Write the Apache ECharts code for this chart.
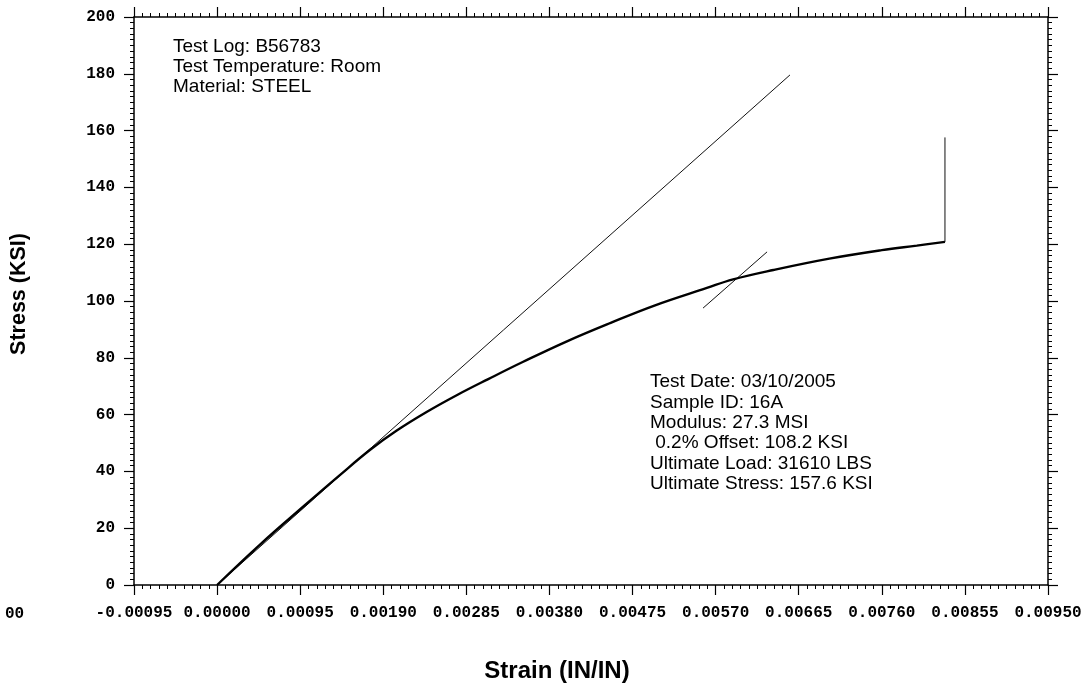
<!DOCTYPE html>
<html>
<head>
<meta charset="utf-8">
<script src="https://cdn.jsdelivr.net/npm/echarts@6/dist/echarts.min.js"></script>
<style>
html,body{margin:0;padding:0;background:#fff;}
#chart{width:1091px;height:687px;}
</style>
</head>
<body>
<div id="chart"></div>
<script>
// ---- data ----
const strainMin = -0.00095;
const strainMax = 0.0095;
const strainInterval = 0.00095;
const stressMin = 0;
const stressMax = 200;
const stressInterval = 20;

// measured stress-strain curve
const curveStrain = [0, 0.0005, 0.001, 0.0014, 0.00175, 0.00205, 0.0024, 0.00275, 0.0031, 0.0035, 0.0040, 0.0045, 0.0050, 0.0056, 0.0059, 0.00636, 0.0070, 0.0076, 0.0080, 0.008322];
const curveStress = [0, 14.5, 28.0, 38.6, 47.6, 54.3, 61.0, 67.0, 72.5, 78.6, 85.8, 92.3, 98.4, 104.6, 107.6, 110.9, 114.9, 117.9, 119.5, 120.8];

// modulus line
const modulusStrain = [0, 0.00655];
const modulusStress = [0, 179.6];

// 0.2% offset line
const offsetStrain = [0.005556, 0.006288];
const offsetStress = [97.5, 117.3];

// ultimate stress marker
const ultimateStrain = [0.008322, 0.008322];
const ultimateStress = [120.8, 157.6];

const infoLeft = ['Test Log: B56783', 'Test Temperature: Room', 'Material: STEEL'];
const infoRight = ['Test Date: 03/10/2005', 'Sample ID: 16A', 'Modulus: 27.3 MSI', ' 0.2% Offset: 108.2 KSI', 'Ultimate Load: 31610 LBS', 'Ultimate Stress: 157.6 KSI'];

const xTitle = 'Strain (IN/IN)';
const yTitle = 'Stress (KSI)';
const strayLabel = '00';

// ---- build ----
function pairs(xs, ys) { return xs.map((x, i) => [x, ys[i]]); }

const monoFont = '"Liberation Mono", "DejaVu Sans Mono", monospace';
const sansFont = '"Liberation Sans", Arial, sans-serif';
const axisColor = '#000';

function xAxisCfg(pos, labels) {
  return {
    type: 'value', position: pos,
    min: strainMin, max: strainMax, interval: strainInterval,
    axisLine: { show: true, onZero: false, lineStyle: { color: axisColor, width: 1.5 } },
    axisTick: { show: true, inside: false, length: 10, lineStyle: { color: axisColor, width: 1.2 } },
    minorTick: { show: true, splitNumber: 10, length: 4, lineStyle: { color: axisColor, width: 1 } },
    splitLine: { show: false },
    axisLabel: labels ? {
      show: true, margin: 20, color: '#000',
      fontFamily: monoFont, fontWeight: 'bold', fontSize: 16,
      showMinLabel: true, showMaxLabel: true,
      formatter: v => (Math.abs(v) < 1e-12 ? 0 : v).toFixed(5)
    } : { show: false }
  };
}
function yAxisCfg(pos, labels) {
  return {
    type: 'value', position: pos,
    min: stressMin, max: stressMax, interval: stressInterval,
    axisLine: { show: true, onZero: false, lineStyle: { color: axisColor, width: 1.5 } },
    axisTick: { show: true, inside: false, length: 10, lineStyle: { color: axisColor, width: 1.2 } },
    minorTick: { show: true, splitNumber: 10, length: 4, lineStyle: { color: axisColor, width: 1 } },
    splitLine: { show: false },
    axisLabel: labels ? {
      show: true, margin: 19, color: '#000',
      fontFamily: monoFont, fontWeight: 'bold', fontSize: 16
    } : { show: false }
  };
}

const chart = echarts.init(document.getElementById('chart'), null, { renderer: 'canvas' });
chart.setOption({
  animation: false,
  backgroundColor: '#fff',
  grid: { left: 134, right: 43, top: 17, bottom: 102, containLabel: false },
  xAxis: [xAxisCfg('bottom', true), xAxisCfg('top', false)],
  yAxis: [yAxisCfg('left', true), yAxisCfg('right', false)],
  series: [
    { type: 'line', data: pairs(modulusStrain, modulusStress), showSymbol: false, symbol: 'none',
      lineStyle: { color: '#111', width: 1 } },
    { type: 'line', data: pairs(offsetStrain, offsetStress), showSymbol: false, symbol: 'none',
      lineStyle: { color: '#111', width: 1 } },
    { type: 'line', data: pairs(ultimateStrain, ultimateStress), showSymbol: false, symbol: 'none',
      lineStyle: { color: '#111', width: 1 } },
    { type: 'line', data: pairs(curveStrain, curveStress), showSymbol: false, symbol: 'none', smooth: 0.4,
      lineStyle: { color: '#000', width: 2.4 } }
  ],
  graphic: [
    { type: 'text', left: 173, top: 37,
      style: { text: infoLeft.join('\n'), fill: '#000', font: '19px ' + sansFont, lineHeight: 20 } },
    { type: 'text', left: 650, top: 372,
      style: { text: infoRight.join('\n'), fill: '#000', font: '19px ' + sansFont, lineHeight: 20.3 } },
    { type: 'text', x: 557, y: 671,
      style: { text: xTitle, fill: '#000', font: 'bold 24px ' + sansFont, align: 'center', verticalAlign: 'middle' } },
    { type: 'text', x: 19, y: 294, rotation: Math.PI / 2,
      style: { text: yTitle, fill: '#000', font: 'bold 21.5px ' + sansFont, align: 'center', verticalAlign: 'middle' } },
    { type: 'text', x: 5, y: 614,
      style: { text: strayLabel, fill: '#000', font: 'bold 16px ' + monoFont, align: 'left', verticalAlign: 'middle' } }
  ]
});
</script>
</body>
</html>
